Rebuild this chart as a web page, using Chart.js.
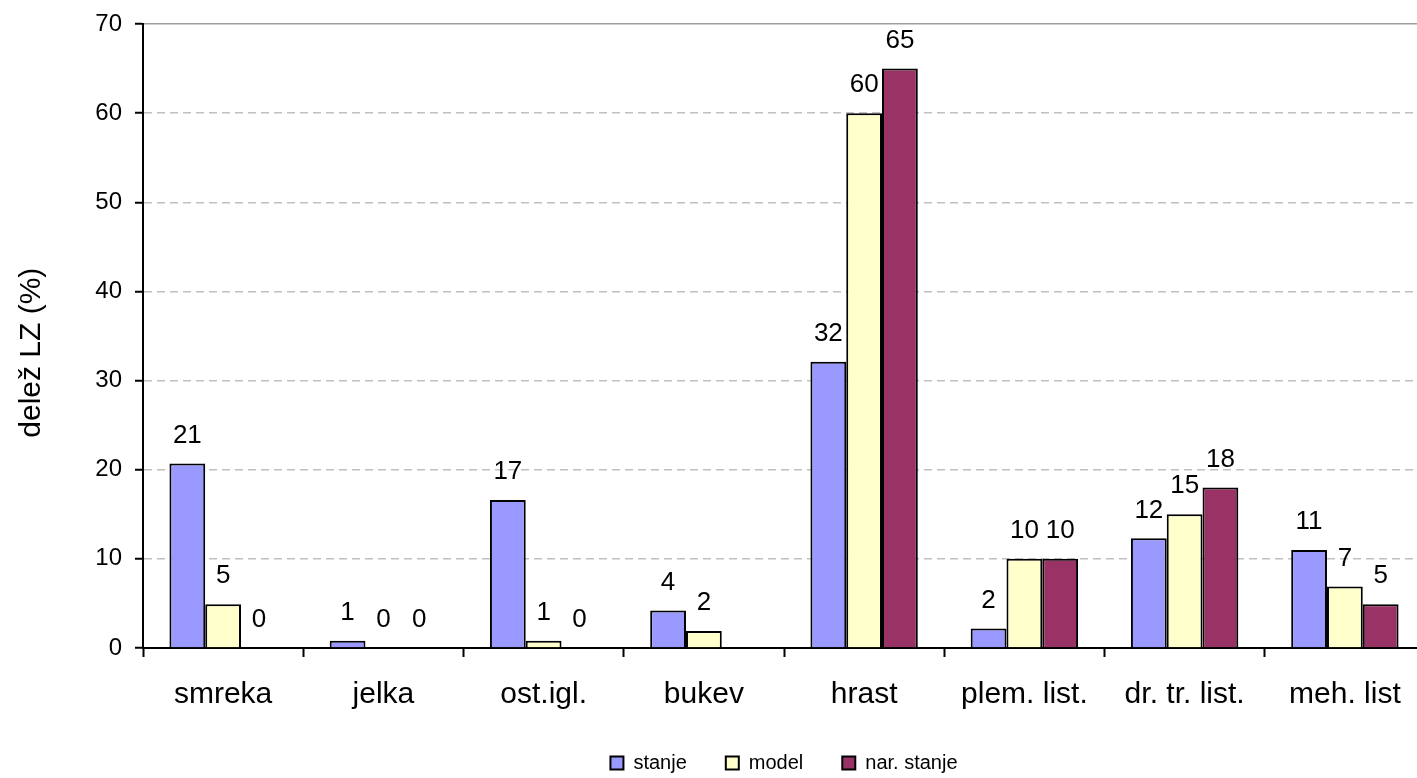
<!DOCTYPE html>
<html>
<head>
<meta charset="utf-8">
<script src="https://cdn.jsdelivr.net/npm/chart.js@4.4.0/dist/chart.umd.min.js"></script>
<style>
  html, body { margin: 0; padding: 0; background: #ffffff; overflow: hidden; }
  #wrap { width: 1430px; height: 783px; }
</style>
</head>
<body>
<div id="wrap"><canvas id="barChart"></canvas></div>
<script>
// Data
const categories = ['smreka', 'jelka', 'ost.igl.', 'bukev', 'hrast', 'plem. list.', 'dr. tr. list.', 'meh. list'];
const stanje = [20.7, 0.8, 16.6, 4.2, 32.1, 2.2, 12.3, 11.0];
const model = [4.9, 0, 0.8, 1.9, 60.0, 10.0, 15.0, 6.9];
const narStanje = [0, 0, 0, null, 65.0, 10.0, 18.0, 4.9];
const yTicks = [0, 10, 20, 30, 40, 50, 60, 70];

Chart.defaults.font.family = "'Liberation Sans', Arial, sans-serif";
Chart.defaults.color = '#000000';

// Value labels above bars
const valueLabels = {
    id: 'valueLabels',
    afterDatasetsDraw(chart) {
        const ctx = chart.ctx;
        ctx.save();
        ctx.font = "26px 'Liberation Sans', Arial, sans-serif";
        ctx.fillStyle = '#000000';
        ctx.textAlign = 'center';
        ctx.textBaseline = 'middle';
        chart.data.datasets.forEach((ds, i) => {
            const meta = chart.getDatasetMeta(i);
            meta.data.forEach((bar, j) => {
                const v = ds.data[j];
                if (v === null || v === undefined) return;
                ctx.fillText(String(Math.round(v)), bar.x, bar.y - 28);
            });
        });
        ctx.restore();
    }
};

const el = document.getElementById('barChart');
new Chart(el.getContext('2d'), {
    type: 'bar',
    data: {
        labels: categories,
        datasets: [
            { label: 'stanje', data: stanje, backgroundColor: '#9999FF' },
            { label: 'model', data: model, backgroundColor: '#FFFFCC' },
            { label: 'nar. stanje', data: narStanje, backgroundColor: '#993366' }
        ].map(ds => Object.assign(ds, {
            borderColor: '#000000',
            borderWidth: 2,
            borderSkipped: 'bottom',
            categoryPercentage: 0.67,
            barPercentage: 1.0
        }))
    },
    options: {
        responsive: true,
        maintainAspectRatio: false,
        animation: false,
        layout: { padding: { left: 0, right: 5, top: 24, bottom: 0 } },
        plugins: {
            legend: {
                position: 'bottom',
                fullSize: false,
                labels: {
                    boxWidth: 13,
                    boxHeight: 13,
                    padding: 39,
                    color: '#000000',
                    font: { size: 20 },
                    generateLabels(chart) {
                        return chart.data.datasets.map((ds, i) => ({
                            text: ds.label,
                            fillStyle: ds.backgroundColor,
                            strokeStyle: '#000000',
                            lineWidth: 2,
                            datasetIndex: i
                        }));
                    }
                }
            },
            tooltip: { enabled: false }
        },
        scales: {
            x: {
                grid: {
                    offset: true,
                    drawOnChartArea: false,
                    drawTicks: true,
                    tickLength: 9,
                    tickColor: '#000000',
                    tickWidth: 2
                },
                border: { display: true, color: '#000000', width: 2 },
                ticks: { color: '#000000', font: { size: 30 }, padding: 20, maxRotation: 0 },
                afterFit(scale) { scale.height = 66; }
            },
            y: {
                min: 0,
                max: 70,
                afterBuildTicks(scale) { scale.ticks = yTicks.map(v => ({ value: v })); },
                grid: {
                    color: ctx => (ctx.tick && ctx.tick.value === 70) ? '#a0a0a0' : '#c0c0c0',
                    lineWidth: 1.5,
                    drawTicks: true,
                    tickLength: 8,
                    tickColor: '#000000',
                    tickWidth: 2
                },
                border: {
                    display: true,
                    color: '#000000',
                    width: 2,
                    dash: ctx => (ctx.tick && ctx.tick.value !== 70) ? [8, 5] : []
                },
                ticks: { color: '#000000', font: { size: 24 }, padding: 13 },
                title: {
                    display: true,
                    text: 'delež LZ (%)    ',
                    color: '#000000',
                    font: { size: 30 },
                    padding: { top: 14, bottom: 0 }
                },
                afterFit(scale) {
                    scale.width = 143;
                    scale.paddingTop = 0;
                    scale.paddingBottom = 0;
                }
            }
        }
    },
    plugins: [valueLabels]
});
</script>
</body>
</html>
